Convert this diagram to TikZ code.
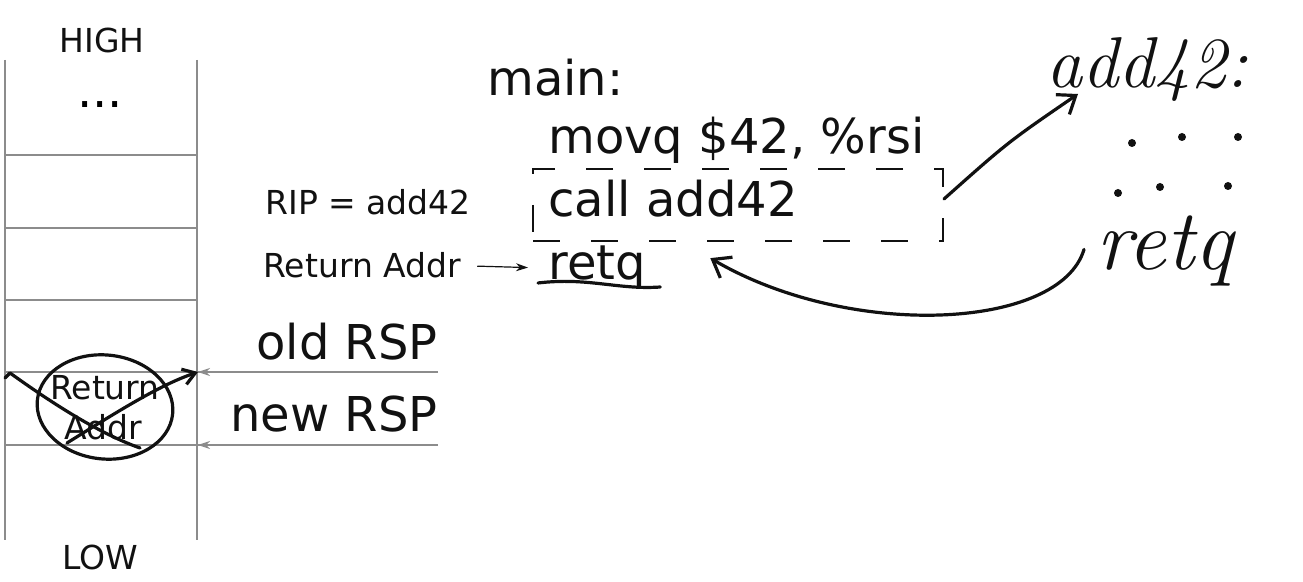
\documentclass[tikz,border=0pt]{standalone}
\usepackage{fontspec}
\setsansfont{DejaVu Sans}
\renewcommand\familydefault{\sfdefault}
\usepackage{tikz}
\usetikzlibrary{arrows.meta,positioning,calc}
\definecolor{Ink}{HTML}{111111}
\definecolor{Grid}{HTML}{8C8C8C}
\tikzset{
  stackline/.style={Grid,line width=0.6pt},
  pen/.style={Ink,line width=1.6pt,line cap=round,line join=round},
  big/.style={font=\fontsize{24}{28}\selectfont,text=Ink,inner sep=0pt,anchor=base west},
  small/.style={font=\fontsize{16.5}{20}\selectfont,text=Ink,inner sep=0pt},
  hand/.style={font=\rmfamily\itshape\fontsize{36}{40}\selectfont,text=Ink,inner sep=0pt,anchor=base west},
  dashbox/.style={draw=Ink,line width=1pt,dash pattern=on 13.5pt off 15.5pt,inner sep=0pt,minimum width=205pt,minimum height=36pt}
}
\begin{document}
\begin{tikzpicture}[x=0.5pt,y=-0.5pt]
  \useasboundingbox (0,0) rectangle (1303,582);

  % stack
  \draw[stackline] (5,60) -- (5,540) (197,60) -- (197,540);
  \foreach \y in {155,228,300}
    \draw[stackline] (5,\y) -- (197,\y);
  \draw[stackline] (5,372) -- (438,372) (5,445) -- (438,445);
  \node[small] (high) at (102,40) {HIGH};
  \node[font=\fontsize{24}{28}\selectfont,inner sep=0pt,anchor=base] (dots) at (100,108) {...};
  \node[small] (low) at (100,557) {LOW};
  \node[small,anchor=base] (ret) at (105,400) {Return};
  \node[small,anchor=base] (addr) at (103,440) {Addr};

  % stack pointers
  \node[big,anchor=base east] (oldrsp) at (438,360) {old RSP};
  \node[big,anchor=base east] (newrsp) at (438,432) {new RSP};
  \coordinate (oldend) at (438,372);
  \coordinate (oldtip) at (198,372);
  \coordinate (newend) at (438,445);
  \coordinate (newtip) at (198,445);
  \draw[stackline,-{Stealth[length=6pt,width=4pt]}] (oldend) -- (oldtip);
  \draw[stackline,-{Stealth[length=6pt,width=4pt]}] (newend) -- (newtip);

  % crossed out slot
  \draw[pen,rotate around={-6:(105,407)}] (105,407) ellipse [x radius=34pt,y radius=26pt];
  \draw[pen] (5,378) -- (10,373) .. controls (45,398) and (95,432) .. (140,448);
  \draw[pen,-{Straight Barb[length=6pt,width=8pt]}] (67,443) .. controls (120,410) and (160,385) .. (oldtip);

  % code
  \node[big] (mainlbl) at (487,96) {main:};
  \node[big] (movq) at (548,154) {movq \$42, \%rsi};
  \node[big] (call) at (548,217) {call add42};
  \node[big] (retq) at (548,280) {retq};
  \node[dashbox] (callbox) at (738,205) {};
  \draw[pen] ($(retq.base west)+(-10,3)$) .. controls ($(retq.base west)+(40,-3)$) and ($(retq.base west)+(70,10)$) .. ($(retq.base east)+(14,7)$);

  % labels on the left of the code
  \node[small,anchor=base west] (rip) at (265,215) {RIP = add42};
  \node[small,anchor=base west] (retaddr) at (263,278) {Return Addr};
  \draw[Ink,line width=0.6pt,-{Stealth[length=6pt,width=4pt]},shorten <=8pt,shorten >=10pt] (retaddr.east) -- (retq.west);

  % handwritten callee
  \node[hand] (add42) at (1046,88) {add42:};
  \foreach \x/\y in {1132/143,1182/137,1238/137,1118/193,1160/187,1228/186}
    \fill[Ink] (\x,\y) circle (2pt);
  \node[hand,font=\rmfamily\itshape\fontsize{43}{47}\selectfont] (hretq) at (1096,270) {retq};
  \coordinate (back) at ($(retq.east)+(64,-10)$);
  \draw[pen,-{Straight Barb[length=8pt,width=12pt]}] ([yshift=3pt]callbox.east) .. controls (1008,142) .. ($(add42.base west)+(32,6)$);
  \draw[pen,-{Straight Barb[length=8pt,width=12pt]}] ($(hretq.west)+(-12,-2)$) .. controls (1060,330) and (850,340) .. (back);
\end{tikzpicture}
\end{document}
